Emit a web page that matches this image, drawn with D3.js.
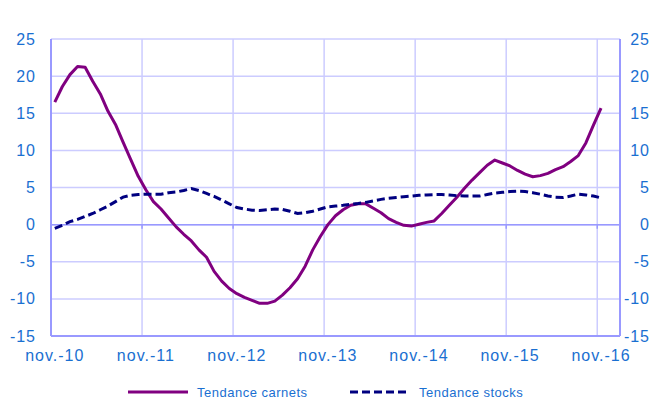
<!DOCTYPE html>
<html>
<head>
<meta charset="utf-8">
<script src="https://cdn.jsdelivr.net/npm/d3@7"></script>
<style>
  body { margin: 0; background: #fff; }
  text { font-family: "Liberation Sans", Arial, sans-serif; }
</style>
</head>
<body>
<div id="chart"></div>
<script>
// monthly data, nov-10 .. nov-16
var carnets = [16.5, 18.6, 20.2, 21.3, 21.2, 19.3, 17.6, 15.3, 13.5, 11.1, 8.8, 6.5,
    4.7, 3.1, 2.1, 0.9, -0.3, -1.3, -2.2, -3.4, -4.4, -6.3, -7.6, -8.6,
    -9.3, -9.8, -10.2, -10.6, -10.6, -10.3, -9.5, -8.5, -7.3, -5.6, -3.4, -1.6,
    0.0, 1.2, 2.0, 2.6, 2.8, 2.8, 2.2, 1.6, 0.8, 0.3, -0.1, -0.2,
    0.05, 0.3, 0.5, 1.5, 2.6, 3.7, 4.9, 6.0, 7.0, 8.0, 8.7, 8.3,
    7.9, 7.3, 6.8, 6.45, 6.6, 6.9, 7.4, 7.8, 8.5, 9.3, 11.0, 13.4, 15.7];
var stocks = [-0.5, -0.1, 0.4, 0.7, 1.1, 1.5, 2.0, 2.5, 3.1, 3.7, 3.95, 4.05,
    4.1, 4.1, 4.1, 4.3, 4.4, 4.6, 4.85, 4.6, 4.2, 3.8, 3.3, 2.8,
    2.3, 2.1, 1.95, 1.9, 2.0, 2.1, 2.05, 1.8, 1.5, 1.6, 1.8, 2.1,
    2.4, 2.5, 2.6, 2.75, 2.85, 3.0, 3.2, 3.4, 3.55, 3.65, 3.75, 3.85,
    3.95, 4.0, 4.05, 4.05, 4.0, 3.9, 3.85, 3.85, 3.85, 4.05, 4.25, 4.35,
    4.45, 4.5, 4.45, 4.3, 4.1, 3.85, 3.7, 3.65, 3.85, 4.1, 4.0, 3.85, 3.6];
var xLabels = ["nov.-10", "nov.-11", "nov.-12", "nov.-13", "nov.-14", "nov.-15", "nov.-16"];
var yTicks = [-15, -10, -5, 0, 5, 10, 15, 20, 25];
var nCats = 75; // category slots on the axis

var W = 652, H = 400;
var margin = { top: 39, right: 32, bottom: 64, left: 51 },
    width = W - margin.left - margin.right,
    height = H - margin.top - margin.bottom;

var svg = d3.select("#chart")
    .append("svg")
    .attr("width", W)
    .attr("height", H)
    .append("g")
    .attr("transform", "translate(" + margin.left + "," + margin.top + ")");

var x = d3.scaleLinear().domain([0, nCats]).range([0, width]);
var y = d3.scaleLinear().domain([-15, 25]).range([height, 0]);

var gridColor = "#ccccff", axisColor = "#9999ff", labelColor = "#1a6fd1";

// horizontal gridlines
svg.selectAll(".hgrid")
    .data(yTicks)
    .enter().append("line")
    .attr("x1", 0).attr("x2", width)
    .attr("y1", function (d) { return y(d); })
    .attr("y2", function (d) { return y(d); })
    .attr("stroke", gridColor)
    .attr("stroke-width", 1.5);

// vertical gridlines every 12 months
svg.selectAll(".vgrid")
    .data(xLabels)
    .enter().append("line")
    .attr("x1", function (d, i) { return x(i * 12); })
    .attr("x2", function (d, i) { return x(i * 12); })
    .attr("y1", 0).attr("y2", height)
    .attr("stroke", gridColor)
    .attr("stroke-width", 1.5);

// frame / axes
svg.append("line").attr("x1", 0).attr("x2", 0).attr("y1", 0).attr("y2", height)
    .attr("stroke", axisColor).attr("stroke-width", 2);
svg.append("line").attr("x1", width).attr("x2", width).attr("y1", 0).attr("y2", height)
    .attr("stroke", axisColor).attr("stroke-width", 2);
svg.append("line").attr("x1", 0).attr("x2", width).attr("y1", height).attr("y2", height)
    .attr("stroke", axisColor).attr("stroke-width", 2);
svg.append("line").attr("x1", 0).attr("x2", width).attr("y1", y(0)).attr("y2", y(0))
    .attr("stroke", axisColor).attr("stroke-width", 1.5);
svg.selectAll(".xtick")
    .data(xLabels)
    .enter().append("line")
    .attr("x1", function (d, i) { return x(i * 12); })
    .attr("x2", function (d, i) { return x(i * 12); })
    .attr("y1", y(0)).attr("y2", y(0) + 4)
    .attr("stroke", axisColor).attr("stroke-width", 1.5);

// y labels left and right
svg.selectAll(".ylabL")
    .data(yTicks)
    .enter().append("text")
    .attr("x", -15)
    .attr("y", function (d) { return y(d); })
    .attr("dy", "0.35em")
    .attr("text-anchor", "end")
    .style("font-size", "16px")
    .style("letter-spacing", "1px")
    .style("fill", labelColor)
    .text(function (d) { return d; });

svg.selectAll(".ylabR")
    .data(yTicks)
    .enter().append("text")
    .attr("x", width + 30)
    .attr("y", function (d) { return y(d); })
    .attr("dy", "0.35em")
    .attr("text-anchor", "end")
    .style("font-size", "16px")
    .style("letter-spacing", "1px")
    .style("fill", labelColor)
    .text(function (d) { return d; });

// x labels at category centres
svg.selectAll(".xlab")
    .data(xLabels)
    .enter().append("text")
    .attr("x", function (d, i) { return x(i * 12 + 0.5); })
    .attr("y", height + 25)
    .attr("text-anchor", "middle")
    .style("font-size", "16px")
    .style("letter-spacing", "1px")
    .style("fill", labelColor)
    .text(function (d) { return d; });

var line = d3.line()
    .x(function (d, i) { return x(i + 0.5); })
    .y(function (d) { return y(d); });

svg.append("path")
    .datum(carnets)
    .attr("d", line)
    .attr("fill", "none")
    .attr("stroke", "#800080")
    .attr("stroke-width", 3)
    .attr("stroke-linejoin", "round");

svg.append("path")
    .datum(stocks)
    .attr("d", line)
    .attr("fill", "none")
    .attr("stroke", "#000080")
    .attr("stroke-width", 3)
    .attr("stroke-dasharray", "8,4");

// legend
var legend = d3.select("svg").append("g");
var items = [
    { name: "Tendance carnets", color: "#800080", dash: null, x: 128 },
    { name: "Tendance stocks", color: "#000080", dash: "8,4", x: 350 }
];
items.forEach(function (it) {
    legend.append("line")
        .attr("x1", it.x).attr("x2", it.x + 60)
        .attr("y1", 392).attr("y2", 392)
        .attr("stroke", it.color)
        .attr("stroke-width", 3)
        .attr("stroke-dasharray", it.dash);
    legend.append("text")
        .attr("x", it.x + 69)
        .attr("y", 392)
        .attr("dy", "0.35em")
        .style("font-size", "13px")
        .style("letter-spacing", "0.5px")
        .style("fill", labelColor)
        .text(it.name);
});
</script>
</body>
</html>
